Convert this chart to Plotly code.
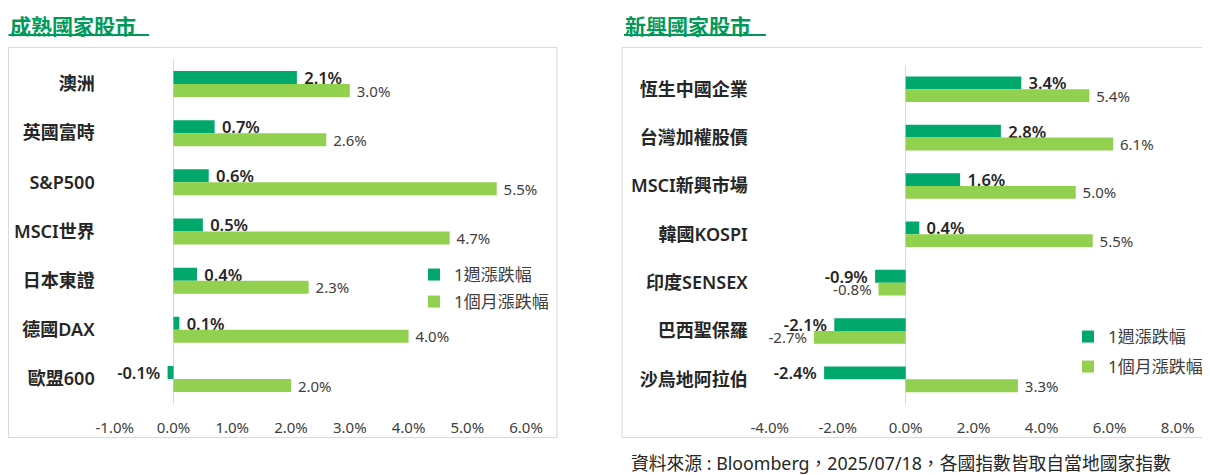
import plotly.graph_objects as go

# ---- data ----
dev_categories = ["澳洲", "英國富時", "S&P500", "MSCI世界", "日本東證", "德國DAX", "歐盟600"]
dev_week = [2.1, 0.7, 0.6, 0.5, 0.4, 0.1, -0.1]
dev_month = [3.0, 2.6, 5.5, 4.7, 2.3, 4.0, 2.0]

em_categories = ["恆生中國企業", "台灣加權股價", "MSCI新興市場", "韓國KOSPI", "印度SENSEX", "巴西聖保羅", "沙烏地阿拉伯"]
em_week = [3.4, 2.8, 1.6, 0.4, -0.9, -2.1, -2.4]
em_month = [5.4, 6.1, 5.0, 5.5, -0.8, -2.7, 3.3]

dev_ticks = [-1, 0, 1, 2, 3, 4, 5, 6]
dev_ticktext = ["-1.0%", "0.0%", "1.0%", "2.0%", "3.0%", "4.0%", "5.0%", "6.0%"]
em_ticks = [-4, -2, 0, 2, 4, 6, 8]
em_ticktext = ["-4.0%", "-2.0%", "0.0%", "2.0%", "4.0%", "6.0%", "8.0%"]

series_names = ["1週漲跌幅", "1個月漲跌幅"]
title_left = "成熟國家股市"
title_right = "新興國家股市"
source_text = "資料來源 : Bloomberg，2025/07/18，各國指數皆取自當地國家指數"

DARK = "#00A86B"
LIGHT = "#92D050"
TITLE_GREEN = "#00995A"
FONT = "Noto Sans, Noto Sans CJK TC"
CJK = "Noto Sans CJK TC"

# page body has an 8px margin; compensate so the picture lands where intended
OFF = 8
W, H = 1210 - OFF, 475 - OFF


def px(x):
    return (x - OFF) / W


def py(y):
    return 1 - (y - OFF) / H


def lab(v):
    nb = "\u00a0"
    s = f"{v:.1f}%"
    return s + nb if v < 0 else nb + s


fig = go.Figure()


def add_pair(cats, week, month, xa, ya, lg_week, lg_month):
    fig.add_trace(go.Bar(
        y=cats, x=week, orientation="h", name=series_names[0],
        marker_color=DARK, xaxis=xa, yaxis=ya, legend=lg_week,
        text=[lab(v) for v in week], textposition="outside", constraintext="none",
        textfont=dict(family=FONT, size=16.5, color="#262626", weight=600),
        cliponaxis=False, hoverinfo="skip"))
    fig.add_trace(go.Bar(
        y=cats, x=month, orientation="h", name=series_names[1],
        marker_color=LIGHT, xaxis=xa, yaxis=ya, legend=lg_month,
        text=[lab(v) for v in month], textposition="outside", constraintext="none",
        textfont=dict(family=FONT, size=15, color="#404040"),
        cliponaxis=False, hoverinfo="skip"))


add_pair(dev_categories, dev_week, dev_month, "x", "y", "legend", "legend2")
add_pair(em_categories, em_week, em_month, "x2", "y2", "legend3", "legend4")

xcommon = dict(showgrid=False, zeroline=True, zerolinecolor="#D9D9D9", zerolinewidth=1,
               showline=False, ticks="", ticklabelstandoff=13, automargin=False,
               tickfont=dict(family=FONT, size=15, color="#404040"), fixedrange=True)
ycommon = dict(showgrid=False, showline=False, zeroline=False, ticks="", autorange="reversed",
               automargin=False,
               tickfont=dict(family=FONT, size=18, color="#262626", weight=600),
               fixedrange=True)

legend_common = dict(xanchor="left", yanchor="middle", bgcolor="rgba(0,0,0,0)",
                     font=dict(family=FONT, size=17, color="#404040"), itemwidth=30,
                     borderwidth=0)

fig.update_layout(
    template="none",
    width=W, height=H,
    margin=dict(l=0, r=0, t=0, b=0, autoexpand=False),
    paper_bgcolor="white", plot_bgcolor="white",
    barmode="group", bargap=0.47, bargroupgap=0,
    font=dict(family=FONT),
    showlegend=True,
    xaxis=dict(domain=[px(114.7), px(526.1)], range=[-1, 6], tickvals=dev_ticks,
               ticktext=dev_ticktext, anchor="y", **xcommon),
    yaxis=dict(domain=[py(403.6), py(59.4)], anchor="x", ticklabelstandoff=19, **ycommon),
    xaxis2=dict(domain=[px(769.7), px(1177.7)], range=[-4, 8], tickvals=em_ticks,
                ticktext=em_ticktext, anchor="y2", **xcommon),
    yaxis2=dict(domain=[py(403.5), py(65.1)], anchor="x2", ticklabelstandoff=21, **ycommon),
    legend=dict(x=px(414), y=py(275), **legend_common),
    legend2=dict(x=px(414), y=py(302), **legend_common),
    legend3=dict(x=px(1068), y=py(337), **legend_common),
    legend4=dict(x=px(1068), y=py(367), **legend_common),
    shapes=[
        dict(type="rect", xref="paper", yref="paper", x0=px(8.5), x1=px(557), y0=py(437.5), y1=py(47.5),
             line=dict(color="#D9D9D9", width=1), layer="below"),
        dict(type="rect", xref="paper", yref="paper", x0=px(622), x1=px(1209.5), y0=py(437.5), y1=py(47.5),
             line=dict(color="#D9D9D9", width=1), layer="below"),
        dict(type="line", xref="paper", yref="paper", x0=px(8.5), x1=px(149), y0=py(35), y1=py(35),
             line=dict(color=TITLE_GREEN, width=2)),
        dict(type="line", xref="paper", yref="paper", x0=px(624), x1=px(766), y0=py(35), y1=py(35),
             line=dict(color=TITLE_GREEN, width=2)),
    ],
    annotations=[
        dict(text=title_left, xref="paper", yref="paper", x=px(9), y=py(8.5), xanchor="left", yanchor="top",
             showarrow=False, borderpad=0,
             font=dict(family=CJK, size=21, color=TITLE_GREEN, weight="bold")),
        dict(text=title_right, xref="paper", yref="paper", x=px(624), y=py(8.5), xanchor="left", yanchor="top",
             showarrow=False, borderpad=0,
             font=dict(family=CJK, size=21, color=TITLE_GREEN, weight="bold")),
        dict(text=source_text, xref="paper", yref="paper", x=px(630), y=py(463), xanchor="left", yanchor="middle",
             showarrow=False, borderpad=0,
             font=dict(family=FONT, size=17.8, color="#262626")),
    ],
)

fig.write_html("out.html")
